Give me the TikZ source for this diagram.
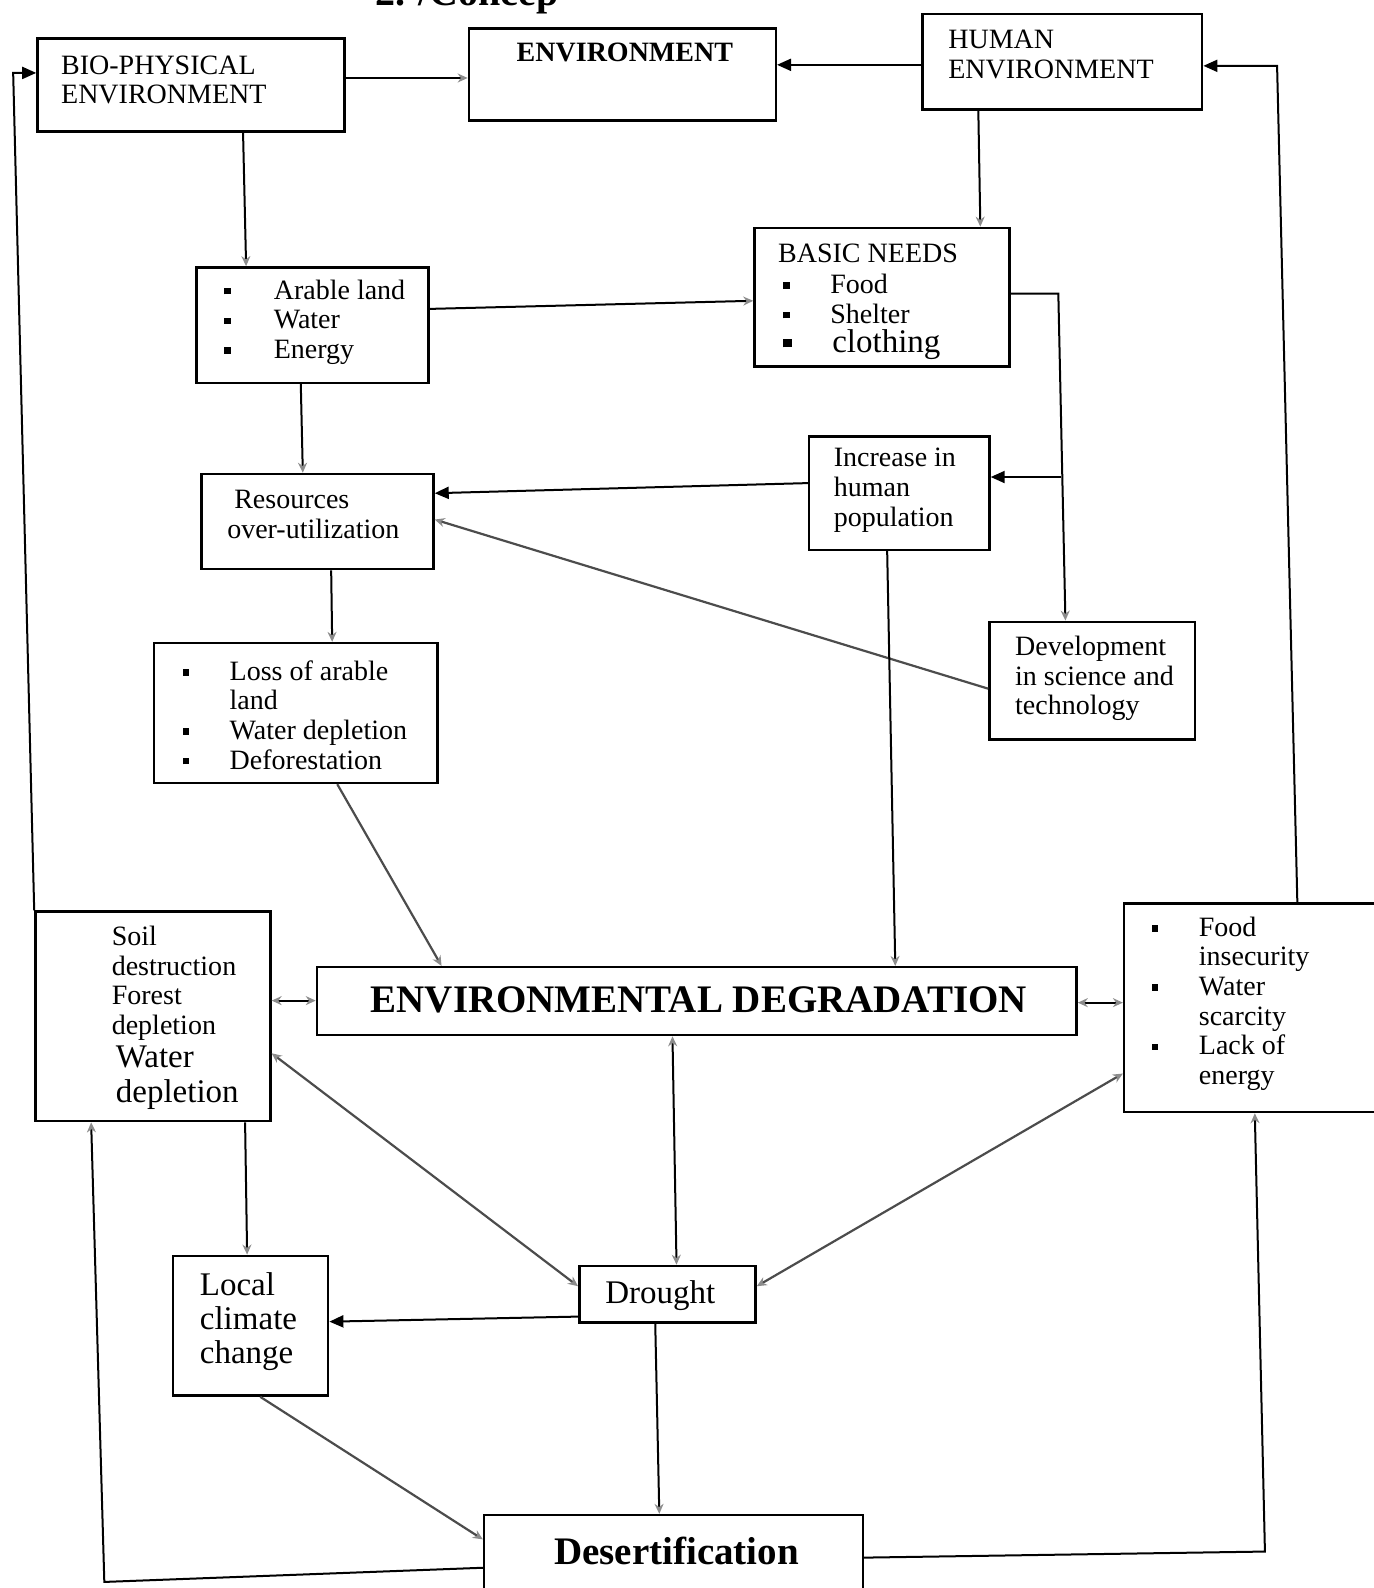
\documentclass[tikz,border=0pt]{standalone}
\usepackage{fontspec}
\setmainfont{Liberation Serif}
\usetikzlibrary{arrows.meta,fit}
\newcommand{\sqb}[1][3.2pt]{\rule[2.4pt]{#1}{#1}}
\newcommand{\bl}[2][23.5pt]{\makebox[#1][l]{#2}}
\tikzset{
 box/.style={draw, line width=1.25pt, inner sep=0pt},
 txt/.style={inner sep=0pt, align=left, anchor=west, font=\fontsize{14pt}{14.8pt}\selectfont},
 big/.style={inner sep=0pt, align=left, anchor=west, font=\fontsize{16.5pt}{17.2pt}\selectfont},
 ln/.style={line width=1pt},
 dg/.style={line width=1.1pt, draw=black!70},
 dk/.style={-{Triangle[length=7pt,width=6pt]}},
 gh/.style={-{Stealth[length=5pt,width=4.5pt,color=black!45]}},
 ghb/.style={{Stealth[length=5pt,width=4.5pt,color=black!45]}-{Stealth[length=5pt,width=4.5pt,color=black!45]}},
}
\newcommand{\bx}[5]{\node[box, fit={(#2,#3)(#4,#5)}] (#1) {};}
\begin{document}
\begin{tikzpicture}[x=0.5063pt,y=-0.5063pt]
\useasboundingbox (0,0) rectangle (1356,1568);
\node[inner sep=0pt, anchor=base west, font=\bfseries\fontsize{20pt}{20pt}\selectfont] (ttl) at (370,5) {2. /Concep};
% boxes
\bx{bio}{37}{38}{340}{130}
\bx{env}{463}{28}{766}{119}
\bx{hum}{911}{14}{1187}{108}
\bx{ara}{194}{264}{423}{378}
\bx{bas}{745}{225}{997}{362}
\bx{res}{199}{468}{428}{562}
\bx{inc}{799}{431}{977}{543}
\bx{dev}{977}{614}{1180}{730}
\bx{los}{152}{635}{432}{773}
\bx{soil}{35}{900}{267}{1107}
\bx{deg}{313}{955}{1063}{1022}
\bx{food}{1110}{892}{1362}{1098}
\bx{loc}{171}{1240}{324}{1378}
\bx{dro}{572}{1250}{746}{1306}
\bx{des}{478}{1496}{852}{1572}
% texts
\node[txt] (bio-t) at (60,79) {BIO-PHYSICAL\\ENVIRONMENT};
\node[txt, anchor=center, font=\bfseries\fontsize{14pt}{14.8pt}\selectfont] (env-t) at (617,52) {ENVIRONMENT};
\node[txt] (hum-t) at (936,54) {HUMAN\\ENVIRONMENT};
\node[txt] (ara-t) at (221,318) {\bl[24.8pt]{\sqb}Arable land\\\bl[24.8pt]{\sqb}Water\\\bl[24.8pt]{\sqb}Energy};
\node[txt] (bas-t) at (768,250) {BASIC NEEDS};
\node[txt] (bas-l) at (773,295) {\bl{\sqb}Food\\\bl{\sqb}Shelter};
\node[txt, font=\fontsize{16.5pt}{17pt}\selectfont] (bas-c) at (773,340) {\bl[24.5pt]{\sqb[4.2pt]}clothing};
\node[txt] (res-t) at (224,508) {\hspace*{3.5pt}Resources\\over-utilization};
\node[txt] (inc-t) at (823,484) {Increase in\\human\\population};
\node[txt] (dev-t) at (1002,670) {Development\\in science and\\technology};
\node[txt] (los-t) at (180,706) {\bl{\sqb}Loss of arable\\\bl{}land\\\bl{\sqb}Water depletion\\\bl{\sqb}Deforestation};
\node[txt] (soil-t) at (110,971) {Soil\\destruction\\Forest\\depletion};
\node[big] (soil-b) at (114,1064) {Water\\depletion};
\node[txt, anchor=center, font=\bfseries\fontsize{19.5pt}{20pt}\selectfont] (deg-t) at (690,987) {ENVIRONMENTAL DEGRADATION};
\node[txt] (food-t) at (1137,991) {\bl{\sqb}Food\\\bl{}insecurity\\\bl{\sqb}Water\\\bl{}scarcity\\\bl{\sqb}Lack of\\\bl{}energy};
\node[big] (loc-t) at (197,1305) {Local\\climate\\change};
\node[big, anchor=center] (dro-t) at (652,1279) {Drought};
\node[txt, anchor=center, font=\bfseries\fontsize{19.5pt}{20pt}\selectfont] (des-t) at (668,1531) {Desertification};
% connectors
\draw[ln,gh] (bio.east |- 0,77) -- (env.west |- 0,77);
\draw[ln,dk] (hum.west |- 0,64) -- (env.east |- 0,64);
\coordinate (c1) at (13,72);
\draw[ln,dk] (soil.north west) -- (c1) -- (bio.west |- c1);
\coordinate (c2) at (1261,65);
\draw[ln,dk] (1281,0 |- food.north) -- (c2) -- (hum.east |- c2);
\coordinate (c3) at (1249,1532);
\draw[ln,gh] (des.east |- 0,1538) -- (c3) -- (1239,0 |- food.south);
\coordinate (c6) at (103,1562);
\draw[ln,gh] (des.west |- 0,1548) -- (c6) -- (90,0 |- soil.south);
\draw[ln,gh] (966,0 |- hum.south) -- (968,0 |- bas.north);
\draw[ln,gh] (240,0 |- bio.south) -- (243,0 |- ara.north);
\draw[ln,gh] (ara.east |- 0,305) -- (bas.west |- 0,297);
\coordinate (c4) at (1045,290);
\draw[ln,gh] (bas.east |- c4) -- (c4) -- (1052,0 |- dev.north);
\coordinate (c5) at (1048,471);
\draw[ln,dk] (c5) -- (inc.east |- c5);
\draw[ln,gh] (297,0 |- ara.south) -- (299,0 |- res.north);
\draw[ln,dk] (inc.west |- 0,477) -- (res.east |- 0,487);
\draw[dg,gh] (dev.west |- 0,680) -- (res.east |- 0,513);
\draw[ln,gh] (327,0 |- res.south) -- (328,0 |- los.north);
\draw[dg,gh] (333,0 |- los.south) -- (436,0 |- deg.north);
\draw[ln,gh] (876,0 |- inc.south) -- (884,0 |- deg.north);
\draw[ln,ghb] (soil.east |- 0,988) -- (deg.west |- 0,988);
\draw[ln,ghb] (deg.east |- 0,990) -- (food.west |- 0,990);
\draw[ln,ghb] (664,0 |- deg.south) -- (668,0 |- dro.north);
\draw[dg,ghb] (soil.east |- 0,1040) -- (dro.west |- 0,1270);
\draw[dg,ghb] (food.west |- 0,1060) -- (dro.east |- 0,1270);
\draw[ln,dk] (dro.west |- 0,1300) -- (loc.east |- 0,1305);
\draw[ln,gh] (242,0 |- soil.south) -- (244,0 |- loc.north);
\draw[dg,gh] (257,0 |- loc.south) -- (des.west |- 0,1520);
\draw[ln,gh] (647,0 |- dro.south) -- (651,0 |- des.north);
\end{tikzpicture}
\end{document}
